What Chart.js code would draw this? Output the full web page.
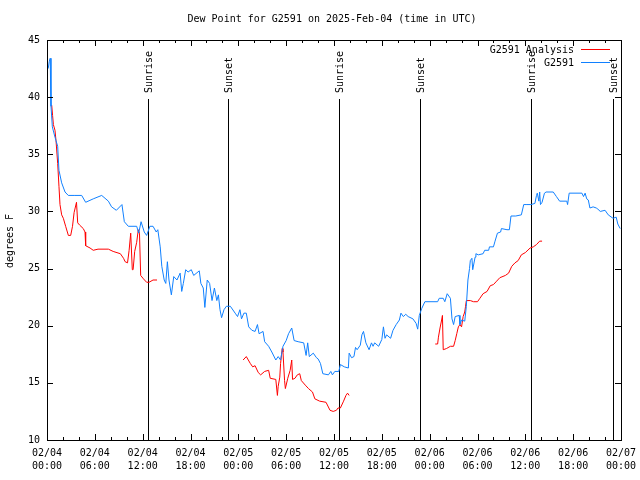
<!DOCTYPE html>
<html>
<head>
<meta charset="utf-8">
<script src="https://cdn.jsdelivr.net/npm/chart.js@4.4.1/dist/chart.umd.min.js"></script>
<style>
  body { margin: 0; background: #fff; }
  #wrap { width: 640px; height: 480px; }
</style>
</head>
<body>
<div id="wrap"><canvas id="dewChart" width="640" height="480"></canvas></div>
<script>
// hours since 2025-02-04 00:00 UTC
const blueHours = [0.15, 0.28, 0.4, 0.5, 0.67, 1.0, 1.34, 1.5, 1.84, 2.26, 2.67, 3.5, 4.35, 4.85, 5.8, 6.86, 7.7, 8.1, 8.7, 9.4,
  9.7, 10.2, 11.25, 11.5, 11.8, 12.2, 12.5, 12.9, 13.3, 13.7, 13.9, 14.2, 14.4, 14.7, 14.9, 15.1, 15.3, 15.6, 15.9, 16.3,
  16.7, 16.9, 17.1, 17.4, 17.7, 18.1, 18.4, 19.1, 19.3, 19.6, 19.8, 20.1, 20.4, 20.7, 21.0, 21.3, 21.5, 21.7, 21.9, 22.2,
  22.5, 23.0, 23.6, 23.9, 24.2, 24.4, 24.7, 25.0, 25.3, 25.7, 26.1, 26.4, 26.6, 27.1, 27.3, 27.8, 28.2, 28.7, 29.0, 29.3,
  29.6, 30.0, 30.3, 30.7, 31.0, 31.5, 32.2, 32.5, 32.7, 32.9, 33.4, 33.8, 34.0, 34.3, 34.6, 35.3, 35.6, 35.8, 36.1, 36.6,
  36.8, 37.3, 37.8, 37.9, 38.2, 38.5, 38.7, 38.9, 39.3, 39.5, 39.7, 40.0, 40.4, 40.7, 40.9, 41.1, 41.6, 42.0, 42.2, 42.4,
  42.6, 43.1, 43.4, 43.8, 44.2, 44.4, 44.7, 45.0, 45.3, 45.9, 46.3, 46.5, 46.7, 47.0, 47.4, 49.0, 49.2, 49.7, 49.9, 50.2,
  50.6, 50.8, 51.0, 51.2, 51.7, 51.8, 52.0, 52.4, 52.6, 52.8, 53.0, 53.1, 53.3, 53.4, 53.7, 53.8, 54.1, 54.7, 54.9, 55.4,
  55.5, 56.0, 56.2, 56.5, 56.9, 57.0, 57.7, 58.0, 58.2, 58.8, 59.5, 59.8, 60.2, 60.7, 61.2, 61.4, 61.5, 61.7, 61.8, 61.9,
  62.1, 62.4, 62.6, 63.5, 63.9, 64.3, 65.2, 65.3, 65.5, 67.1, 67.3, 67.5, 67.7, 67.9, 68.1, 68.5, 68.9, 69.1, 69.4, 70.0,
  70.4, 71.0, 71.4, 71.6, 71.9]
const blueValues = [42.5, 43.1, 43.4, 39.2, 37.4, 36.5, 35.7, 33.6, 32.5, 31.7, 31.4, 31.4, 31.4, 30.8, 31.1, 31.4, 30.9, 30.4, 30.1, 30.6,
  29.1, 28.7, 28.7, 28.1, 29.1, 28.2, 27.9, 28.7, 28.7, 28.2, 28.4, 26.9, 25.2, 24.0, 23.7, 25.6, 24.0, 22.7, 24.3, 24.0,
  24.6, 23.0, 23.7, 24.9, 24.7, 24.9, 24.4, 24.8, 23.7, 23.3, 21.6, 24.0, 23.7, 22.2, 23.3, 22.2, 22.7, 21.4, 20.7, 21.4,
  21.7, 21.7, 21.1, 20.8, 21.4, 20.6, 21.1, 21.1, 19.9, 19.6, 19.5, 20.1, 19.3, 19.5, 18.6, 18.2, 17.7, 17.0, 17.3, 17.0,
  18.2, 18.7, 19.3, 19.8, 18.7, 18.6, 18.5, 17.4, 18.5, 17.3, 17.6, 17.2, 17.1, 16.7, 15.8, 15.7, 16.0, 15.7, 16.0, 16.0,
  16.6, 16.4, 16.3, 17.6, 17.2, 17.3, 18.1, 17.9, 18.3, 19.2, 19.5, 18.5, 17.9, 18.5, 18.2, 18.5, 18.2, 18.8, 19.9, 18.9,
  19.2, 18.9, 19.6, 20.1, 20.5, 21.1, 20.8, 21.0, 20.8, 20.6, 20.2, 19.7, 20.9, 21.5, 22.1, 22.1, 22.4, 22.4, 22.1, 22.8,
  22.4, 20.6, 20.1, 20.8, 20.9, 20.1, 20.5, 20.4, 21.7, 24.0, 25.0, 25.7, 25.9, 24.9, 26.0, 26.3, 26.2, 26.3, 26.6, 26.6,
  26.9, 26.9, 27.4, 28.1, 28.2, 28.5, 28.4, 28.4, 29.6, 29.6, 29.7, 30.6, 30.6, 30.6, 30.7, 31.4, 31.6, 30.9, 31.7, 30.6,
  30.8, 31.6, 31.7, 31.7, 31.3, 30.9, 30.9, 30.6, 31.6, 31.6, 31.3, 31.6, 31.1, 31.0, 30.3, 30.4, 30.3, 30.2, 30.0, 30.1,
  29.7, 29.4, 29.5, 28.9, 28.5]

// null = gap in the analysis series
const redHours = [0.59, 0.7, 0.8, 1.0, 1.13, 1.34, 1.5, 1.63, 1.84, 2.05, 2.34, 2.68, 2.97, 3.2, 3.4, 3.7, 3.85, 4.1, 4.55, 4.77,
  4.85, 5.4, 5.8, 6.4, 7.7, 8.3, 9.2, 9.6, 9.8, 10.1, 10.3, 10.5, 10.7, 10.8, 11.0, 11.25, 11.45, 11.6, 11.75, 12.1,
  12.5, 12.8, 13.3, 13.8, 19.0,
  24.6, 25.0, 25.5, 25.8, 26.1, 26.5, 26.8, 27.3, 27.8, 28.0, 28.7, 28.9, 29.0, 29.2, 29.3, 29.5, 29.6, 29.8, 29.9, 30.2,
  30.5, 30.7, 30.8, 31.1, 31.4, 31.7, 31.9, 32.4, 32.8, 33.3, 33.6, 34.2, 35.0, 35.5, 35.9, 36.3, 36.5, 36.8, 37.2, 37.5,
  37.7, 37.9, 43.0,
  48.7, 49.0, 49.1, 49.3, 49.5, 49.6, 49.7, 50.1, 50.6, 51.0, 51.2, 51.4, 51.6, 51.8, 52.0, 52.2, 52.4, 52.5, 52.6, 53.1,
  53.5, 54.0, 54.3, 54.7, 55.2, 55.6, 56.0, 56.4, 56.8, 57.5, 57.9, 58.3, 58.7, 59.1, 59.5, 60.0, 60.6, 61.0, 61.4, 61.8,
  62.1]
const redValues = [39.3, 38.4, 37.6, 37.1, 36.2, 34.2, 32.2, 30.6, 29.7, 29.4, 28.7, 27.9, 27.9, 28.7, 29.9, 30.8, 29.0, 28.8, 28.5, 28.2,
  27.0, 26.8, 26.6, 26.7, 26.7, 26.5, 26.3, 25.9, 25.6, 25.5, 26.6, 28.1, 24.9, 24.9, 26.5, 27.3, 28.4, 28.1, 24.4, 24.1,
  23.8, 23.8, 24.0, 24.0, null,
  17.0, 17.3, 16.7, 16.4, 16.5, 15.9, 15.7, 16.0, 16.1, 15.4, 15.3, 13.9, 14.7, 15.5, 16.7, 18.0, 17.7, 15.2, 14.5, 15.4,
  16.1, 17.0, 15.3, 15.4, 15.7, 15.8, 15.2, 14.8, 14.5, 14.2, 13.6, 13.4, 13.3, 12.6, 12.5, 12.6, 12.8, 12.8, 13.4, 13.9,
  14.1, 13.9, null,
  18.4, 18.4, 19.0, 19.8, 20.5, 20.9, 17.9, 18.0, 18.2, 18.2, 18.7, 19.3, 19.9, 20.1, 19.9, 20.8, 21.2, 21.7, 22.2, 22.2,
  22.1, 22.1, 22.4, 22.8, 23.0, 23.5, 23.6, 23.9, 24.2, 24.4, 24.6, 25.2, 25.5, 25.7, 26.2, 26.4, 26.8, 26.9, 27.1, 27.4,
  27.4]

const xTickLabels = ['02/04\n00:00', '02/04\n06:00', '02/04\n12:00', '02/04\n18:00', '02/05\n00:00', '02/05\n06:00',
  '02/05\n12:00', '02/05\n18:00', '02/06\n00:00', '02/06\n06:00', '02/06\n12:00', '02/06\n18:00', '02/07\n00:00']
const yTicks = [10, 15, 20, 25, 30, 35, 40, 45]

const sunHours = [12.67, 22.7, 36.63, 46.8, 60.7, 71.0]
const sunLabels = ['Sunrise', 'Sunset', 'Sunrise', 'Sunset', 'Sunrise', 'Sunset']

const FONT = '10px "DejaVu Sans Mono", monospace'

const toPoints = function (hours, values) {
    return hours.map((h, i) => ({ x: h, y: values[i] }))
}

// frame, inward ticks, titles, legend: gnuplot look
const gnuplotPlugin = {
    id: 'gnuplotLook',
    beforeDatasetsDraw(chart) {
        const ctx = chart.ctx
        const a = chart.chartArea
        const x = chart.scales.x
        ctx.save()
        ctx.strokeStyle = '#000'
        ctx.lineWidth = 1
        ctx.fillStyle = '#000'
        ctx.font = FONT
        sunHours.forEach((h, i) => {
            const px = Math.round(x.getPixelForValue(h)) + 0.5
            ctx.beginPath()
            ctx.moveTo(px, a.top + 59)
            ctx.lineTo(px, a.bottom)
            ctx.stroke()
            ctx.save()
            ctx.translate(px + 1, a.top + 53)
            ctx.rotate(-Math.PI / 2)
            ctx.textAlign = 'left'
            ctx.textBaseline = 'middle'
            ctx.fillText(sunLabels[i], 0, 0)
            ctx.restore()
        })
        ctx.restore()
    },
    afterDraw(chart) {
        const ctx = chart.ctx
        const a = chart.chartArea
        const x = chart.scales.x
        const y = chart.scales.y
        ctx.save()
        ctx.strokeStyle = '#000'
        ctx.lineWidth = 1
        ctx.strokeRect(a.left + 0.5, a.top + 0.5, a.right - a.left, a.bottom - a.top)

        ctx.beginPath()
        for (let h = 0; h <= 72; h += 2) {
            const px = Math.round(x.getPixelForValue(h)) + 0.5
            const len = h % 6 === 0 ? 6 : 3
            ctx.moveTo(px, a.bottom)
            ctx.lineTo(px, a.bottom - len)
            ctx.moveTo(px, a.top)
            ctx.lineTo(px, a.top + len)
        }
        yTicks.forEach((v) => {
            const py = Math.round(y.getPixelForValue(v)) + 0.5
            ctx.moveTo(a.left, py)
            ctx.lineTo(a.left + 6, py)
            ctx.moveTo(a.right, py)
            ctx.lineTo(a.right - 6, py)
        })
        ctx.stroke()

        ctx.fillStyle = '#000'
        ctx.font = FONT
        ctx.textAlign = 'center'
        ctx.textBaseline = 'middle'
        ctx.fillText('Dew Point for G2591 on 2025-Feb-04 (time in UTC)', (a.left + a.right) / 2 - 2, 19)

        ctx.save()
        ctx.translate(10, (a.top + a.bottom) / 2 + 1)
        ctx.rotate(-Math.PI / 2)
        ctx.fillText('degrees F', 0, 0)
        ctx.restore()

        // key
        chart.data.datasets.forEach((ds, i) => {
            const ly = 49.5 + i * 13
            ctx.textAlign = 'right'
            ctx.fillStyle = '#000'
            ctx.fillText(ds.label, a.right - 47, ly + 1)
            ctx.strokeStyle = ds.borderColor
            ctx.beginPath()
            ctx.moveTo(a.right - 40, ly)
            ctx.lineTo(a.right - 11, ly)
            ctx.stroke()
        })
        ctx.restore()
    }
}

new Chart(document.getElementById('dewChart'), {
    type: 'line',
    data: {
        datasets: [{
            label: 'G2591 Analysis',
            data: toPoints(redHours, redValues),
            borderColor: 'rgb(255,0,0)',
            borderWidth: 1,
            pointRadius: 0,
            tension: 0,
            spanGaps: false,
            order: 2
        }, {
            label: 'G2591',
            data: toPoints(blueHours, blueValues),
            borderColor: 'rgb(16,128,255)',
            borderWidth: 1,
            pointRadius: 0,
            tension: 0,
            order: 1
        }]
    },
    options: {
        responsive: false,
        animation: false,
        layout: { padding: { top: 40, right: 19, left: 0, bottom: 0 } },
        plugins: {
            legend: { display: false },
            title: { display: false },
            tooltip: { enabled: false }
        },
        scales: {
            x: {
                type: 'linear',
                min: 0,
                max: 72,
                grid: { display: false, drawTicks: false },
                border: { display: false },
                afterFit: (scale) => {
                    scale.height = 40
                    scale.paddingLeft = 0
                    scale.paddingRight = 0
                },
                ticks: {
                    stepSize: 6,
                    autoSkip: false,
                    maxRotation: 0,
                    padding: 7,
                    color: '#000',
                    font: { family: '"DejaVu Sans Mono", monospace', size: 10, lineHeight: 1.3 },
                    callback: (v) => xTickLabels[Math.round(v / 6)].split('\n')
                }
            },
            y: {
                min: 10,
                max: 45,
                grid: { display: false, drawTicks: false },
                border: { display: false },
                afterFit: (scale) => {
                    scale.width = 47
                    scale.paddingTop = 0
                    scale.paddingBottom = 0
                },
                afterBuildTicks: (scale) => { scale.ticks = yTicks.map((v) => ({ value: v })) },
                ticks: {
                    padding: 7,
                    color: '#000',
                    font: { family: '"DejaVu Sans Mono", monospace', size: 10 }
                }
            }
        }
    },
    plugins: [gnuplotPlugin]
})
</script>
</body>
</html>
